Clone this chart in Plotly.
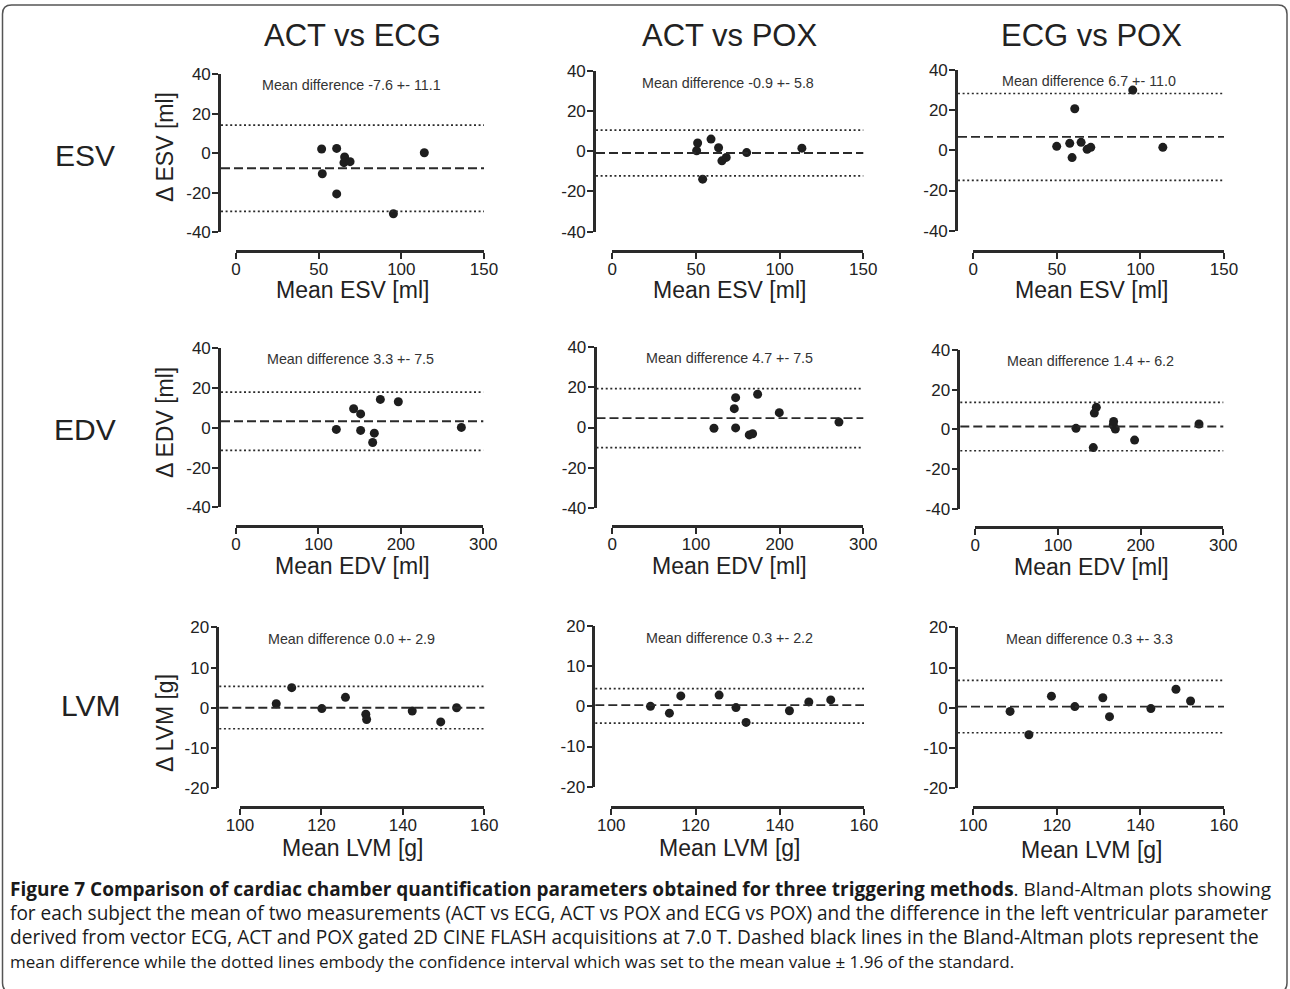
import plotly.graph_objects as go

W, H = 1290, 989

# ------------------------------------------------------------------ data
comparisons = ["ACT vs ECG", "ACT vs POX", "ECG vs POX"]
parameters = ["ESV", "EDV", "LVM"]
y_titles = ["\u0394 ESV [ml]", "\u0394 EDV [ml]", "\u0394 LVM [g]"]
x_titles = ["Mean ESV [ml]", "Mean EDV [ml]", "Mean LVM [g]"]

x_ticks = {"ESV": [0, 50, 100, 150], "EDV": [0, 100, 200, 300], "LVM": [100, 120, 140, 160]}
y_ticks = {"ESV": [-40, -20, 0, 20, 40], "EDV": [-40, -20, 0, 20, 40], "LVM": [-20, -10, 0, 10, 20]}

# ESV
esv_act_ecg_mean = [51.8, 60.9, 65.7, 65.3, 69.0, 52.2, 60.9, 95.2, 113.9]
esv_act_ecg_diff = [2.1, 2.4, -1.9, -4.8, -4.3, -10.4, -20.6, -30.6, 0.2]
esv_act_pox_mean = [51.0, 50.4, 59.0, 63.5, 65.5, 68.1, 80.3, 54.0, 113.3]
esv_act_pox_diff = [4.1, 0.2, 6.0, 1.7, -4.8, -3.1, -0.7, -13.9, 1.5]
esv_ecg_pox_mean = [95.4, 60.7, 49.9, 57.7, 64.5, 59.1, 68.1, 70.3, 113.4]
esv_ecg_pox_diff = [30.0, 20.7, 2.0, 3.5, 4.0, -3.6, 0.5, 1.5, 1.5]

# EDV
edv_act_ecg_mean = [121.7, 142.7, 151.2, 151.2, 175.1, 196.9, 167.8, 165.8, 273.4]
edv_act_ecg_diff = [-0.8, 9.6, 7.0, -1.3, 14.3, 13.1, -2.7, -7.4, 0.2]
edv_act_pox_mean = [121.5, 147.4, 145.8, 147.4, 173.7, 163.7, 167.7, 199.6, 270.9]
edv_act_pox_diff = [-0.4, 14.9, 9.4, -0.2, 16.6, -3.7, -3.1, 7.4, 2.7]
edv_ecg_pox_mean = [121.8, 146.4, 144.0, 142.7, 167.3, 166.9, 169.4, 192.7, 270.6]
edv_ecg_pox_diff = [0.5, 11.1, 8.2, -9.2, 4.0, 2.2, 0.2, -5.4, 2.7]

# LVM
lvm_act_ecg_mean = [108.9, 112.7, 120.1, 125.9, 130.9, 131.1, 142.3, 149.3, 153.2]
lvm_act_ecg_diff = [1.0, 5.0, -0.2, 2.6, -1.6, -2.9, -0.8, -3.5, 0.0]
lvm_act_pox_mean = [109.3, 113.8, 116.5, 125.6, 129.6, 132.0, 142.3, 146.9, 152.1]
lvm_act_pox_diff = [0.0, -1.7, 2.6, 2.8, -0.3, -4.0, -1.1, 1.1, 1.6]
lvm_ecg_pox_mean = [108.8, 113.3, 118.7, 124.3, 131.0, 132.6, 142.5, 148.5, 152.0]
lvm_ecg_pox_diff = [-0.9, -6.7, 2.9, 0.3, 2.5, -2.2, -0.2, 4.6, 1.7]

# mean difference, SD (from labels) and limits of agreement
bias = [-7.6, -0.9, 6.7, 3.3, 4.7, 1.4, 0.0, 0.3, 0.3]
sd = ["11.1", "5.8", "11.0", "7.5", "7.5", "6.2", "2.9", "2.2", "3.3"]
upper_loa = [14.2, 10.5, 28.3, 18.0, 19.4, 13.6, 5.3, 4.4, 6.8]
lower_loa = [-29.4, -12.3, -14.9, -11.4, -10.0, -10.8, -5.2, -4.2, -6.2]

panel_x = [esv_act_ecg_mean, esv_act_pox_mean, esv_ecg_pox_mean,
           edv_act_ecg_mean, edv_act_pox_mean, edv_ecg_pox_mean,
           lvm_act_ecg_mean, lvm_act_pox_mean, lvm_ecg_pox_mean]
panel_y = [esv_act_ecg_diff, esv_act_pox_diff, esv_ecg_pox_diff,
           edv_act_ecg_diff, edv_act_pox_diff, edv_ecg_pox_diff,
           lvm_act_ecg_diff, lvm_act_pox_diff, lvm_ecg_pox_diff]

caption_lines = [
    "<b>Figure 7 Comparison of cardiac chamber quantification parameters obtained for three triggering methods</b>. Bland-Altman plots showing",
    "for each subject the mean of two measurements (ACT vs ECG, ACT vs POX and ECG vs POX) and the difference in the left ventricular parameter",
    "derived from vector ECG, ACT and POX gated 2D CINE FLASH acquisitions at 7.0 T. Dashed black lines in the Bland-Altman plots represent the",
    "mean difference while the dotted lines embody the confidence interval which was set to the mean value \u00b1 1.96 of the standard.",
]

# ------------------------------------------------------------------ geometry (pixels)
# (y-axis line x, y top tick, y bottom tick, x-axis line y, x first tick, x last tick)
geom = [
    (219.0, 74.0, 232.3, 250.7, 236.0, 484.0),
    (594.0, 70.7, 231.7, 250.7, 612.3, 863.3),
    (956.0, 70.0, 230.7, 250.7, 973.3, 1224.0),
    (219.0, 348.3, 507.3, 525.7, 236.0, 483.3),
    (594.5, 347.3, 507.7, 525.7, 612.3, 863.3),
    (958.3, 350.0, 508.7, 526.7, 975.3, 1223.3),
    (217.3, 627.3, 788.3, 806.7, 240.0, 484.3),
    (593.3, 626.0, 786.7, 806.7, 611.3, 864.0),
    (956.0, 627.3, 788.3, 806.7, 973.3, 1224.0),
]
label_pos = [(351, 85), (728, 82.7), (1089, 80.7),
             (350, 359.3), (729, 358.3), (1090, 361),
             (351, 639.3), (729, 638.3), (1089, 639.3)]
xtitle_y = [290, 290, 290, 566, 566, 567, 848, 848, 850]
col_center = [352, 729, 1091]
ytitle_pos = [(165, 147), (165, 423), (165, 723)]
row_label_pos = [(85, 155), (85, 430), (90, 705)]
cap_y = [889, 913, 937, 961]
cap_size = [19.0, 19.05, 19.1, 17.0]


def px(x):
    return x / W


def py(y):
    return 1 - y / H


FONT = "Liberation Sans, Arial, Helvetica, sans-serif"
CAPFONT = "Open Sans, Lato, sans-serif"
AX = "#2a2a2a"
INK = "#222222"

fig = go.Figure()
layout = dict(
    template="none",
    width=W, height=H, autosize=False,
    margin=dict(l=0, r=0, t=0, b=0, pad=0, autoexpand=False),
    paper_bgcolor="white", plot_bgcolor="white",
    showlegend=False,
    font=dict(family=FONT, color=INK),
)
shapes = []
annotations = []

for k in range(9):
    r, c = divmod(k, 3)
    param = parameters[r]
    sfx = "" if k == 0 else str(k + 1)
    yax_x, ytop, ybot, xax_y, x0p, x1p = geom[k]
    xt, yt = x_ticks[param], y_ticks[param]

    fig.add_trace(go.Scatter(
        x=panel_x[k], y=panel_y[k], mode="markers",
        marker=dict(size=9, color="#1e1e1e"),
        xaxis="x" + sfx, yaxis="y" + sfx, cliponaxis=False,
    ))

    common = dict(showgrid=False, zeroline=False, showline=True, linewidth=2.6,
                  linecolor=AX, ticks="outside", ticklen=6, tickwidth=2.4,
                  tickcolor=AX, tickfont=dict(size=17, color=INK, family=FONT),
                  anchor="free", fixedrange=True, automargin=False)
    layout["xaxis" + sfx] = dict(common, domain=[px(x0p), px(x1p)],
                                 range=[xt[0], xt[-1]], tickvals=xt,
                                 ticktext=[str(v) for v in xt],
                                 position=py(xax_y), ticklabelstandoff=-4)
    layout["yaxis" + sfx] = dict(common, domain=[py(ybot), py(ytop)],
                                 range=[yt[0], yt[-1]], tickvals=yt,
                                 ticktext=[str(v) for v in yt],
                                 position=px(yax_x), ticklabelstandoff=-2)

    # bias (dashed) and limits of agreement (dotted), starting at the y axis line
    start = (yax_x + 2 - x0p) / (x1p - x0p)
    for val, dash, lw in [(upper_loa[k], "2px,2.6px", 1.7),
                          (lower_loa[k], "2px,2.6px", 1.7),
                          (bias[k], "9px,4px", 1.9)]:
        shapes.append(dict(type="line", xref="x" + sfx + " domain", yref="y" + sfx,
                           x0=start, x1=1, y0=val, y1=val,
                           line=dict(color="#2a2a2a", width=lw, dash=dash)))

    lx, ly = label_pos[k]
    annotations.append(dict(text=f"Mean difference {bias[k]:.1f} +- {sd[k]}",
                            x=px(lx), y=py(ly), xref="paper", yref="paper",
                            showarrow=False, xanchor="center", yanchor="middle",
                            font=dict(size=14.3, color="#333333", family=FONT)))
    annotations.append(dict(text=x_titles[r], x=px(col_center[c]), y=py(xtitle_y[k]),
                            xref="paper", yref="paper", showarrow=False,
                            xanchor="center", yanchor="middle",
                            font=dict(size=23, color=INK, family=FONT)))

for r in range(3):
    yx, yy = ytitle_pos[r]
    annotations.append(dict(text=y_titles[r], x=px(yx), y=py(yy), xref="paper",
                            yref="paper", showarrow=False, textangle=-90,
                            xanchor="center", yanchor="middle",
                            font=dict(size=23, color=INK, family=FONT)))
    rx, ry = row_label_pos[r]
    annotations.append(dict(text=parameters[r], x=px(rx), y=py(ry), xref="paper",
                            yref="paper", showarrow=False, xanchor="center",
                            yanchor="middle", font=dict(size=30, color=INK, family=FONT)))

for c in range(3):
    annotations.append(dict(text=comparisons[c], x=px(col_center[c]), y=py(35),
                            xref="paper", yref="paper", showarrow=False,
                            xanchor="center", yanchor="middle",
                            font=dict(size=31, color=INK, family=FONT)))

for line, yy, fs in zip(caption_lines, cap_y, cap_size):
    annotations.append(dict(text=line, x=px(8), y=py(yy), xref="paper", yref="paper",
                            showarrow=False, xanchor="left", yanchor="middle",
                            font=dict(size=fs, color="#1a1a1a", family=CAPFONT)))

# rounded frame
fx0, fx1, fy0, fy1, rr = 2.5, 1287.0, 5.0, 992.0, 9.0
frame = (f"M {px(fx0)},{py(fy1 - rr)} L {px(fx0)},{py(fy0 + rr)} "
         f"Q {px(fx0)},{py(fy0)} {px(fx0 + rr)},{py(fy0)} "
         f"L {px(fx1 - rr)},{py(fy0)} Q {px(fx1)},{py(fy0)} {px(fx1)},{py(fy0 + rr)} "
         f"L {px(fx1)},{py(fy1 - rr)} Q {px(fx1)},{py(fy1)} {px(fx1 - rr)},{py(fy1)} "
         f"L {px(fx0 + rr)},{py(fy1)} Q {px(fx0)},{py(fy1)} {px(fx0)},{py(fy1 - rr)} Z")
shapes.append(dict(type="path", xref="paper", yref="paper", path=frame,
                   line=dict(color="#555555", width=1.5)))

layout["shapes"] = shapes
layout["annotations"] = annotations
fig.update_layout(**layout)
fig.write_html("out.html", config={"displayModeBar": False})
